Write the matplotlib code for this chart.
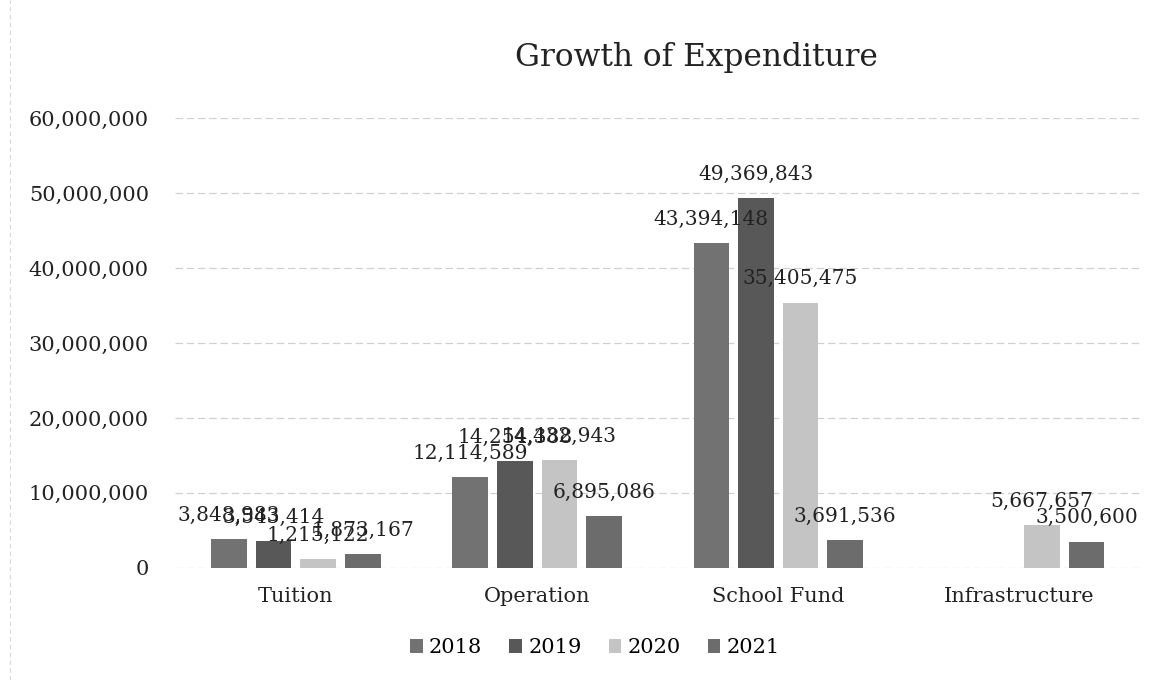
import numpy as np
import matplotlib.pyplot as plt

plt.rcParams['font.family'] = 'DejaVu Serif'

categories = ['Tuition', 'Operation', 'School Fund', 'Infrastructure']
years = ['2018', '2019', '2020', '2021']
y2018 = [3848983, 12114589, 43394148, np.nan]
y2019 = [3543414, 14254388, 49369843, np.nan]
y2020 = [1215122, 14432943, 35405475, 5667657]
y2021 = [1873167, 6895086, 3691536, 3500600]
series = [y2018, y2019, y2020, y2021]
colors = ['#727272', '#585858', '#c4c4c4', '#6c6c6c']

fig = plt.figure(figsize=(11.61, 6.8), dpi=100)
ax = fig.add_axes([0.151, 0.165, 0.831, 0.661])

x = np.arange(len(categories))
step = 0.185
width = 0.148
for i, (vals, c) in enumerate(zip(series, colors)):
    pos = x + (i - 1.5) * step
    ax.bar(pos, vals, width, color=c, label=years[i], zorder=3)
    for p, v in zip(pos, vals):
        if np.isnan(v):
            continue
        ax.text(p, v + 1900000, f'{int(v):,}', ha='center', va='bottom',
                fontsize=14.5, color='#222222', zorder=4)

ax.set_xlim(-0.5, 3.5)
ax.set_ylim(0, 60000000)
ax.set_yticks(np.arange(0, 60000001, 10000000))
ax.set_yticklabels([f'{v:,}' for v in range(0, 60000001, 10000000)])
ax.set_xticks(x)
ax.set_xticklabels(categories)
ax.tick_params(length=0, labelsize=15, colors='#222222')
ax.tick_params(axis='y', pad=19)
ax.tick_params(axis='x', pad=14)
ax.grid(axis='y', color='#d0d0d0', lw=0.9, ls=(0, (6, 3)), zorder=0)
for s in ax.spines.values():
    s.set_visible(False)

fig.text(0.6, 0.915, 'Growth of Expenditure', ha='center', va='center',
         fontsize=22.5, color='#222222')

ax.legend(loc='upper center', bbox_to_anchor=(0.435, -0.115), ncol=4,
          frameon=False, fontsize=15, handlelength=0.6, handleheight=0.6,
          handletextpad=0.3, columnspacing=1.3)

# faint border line on the left of the chart area
fig.add_artist(plt.Line2D([0.009, 0.009], [0.0, 1.0], color='#d8d8d8',
                          lw=0.8, ls=(0, (4, 3))))

fig.savefig('out.png', dpi=100, facecolor='white')
